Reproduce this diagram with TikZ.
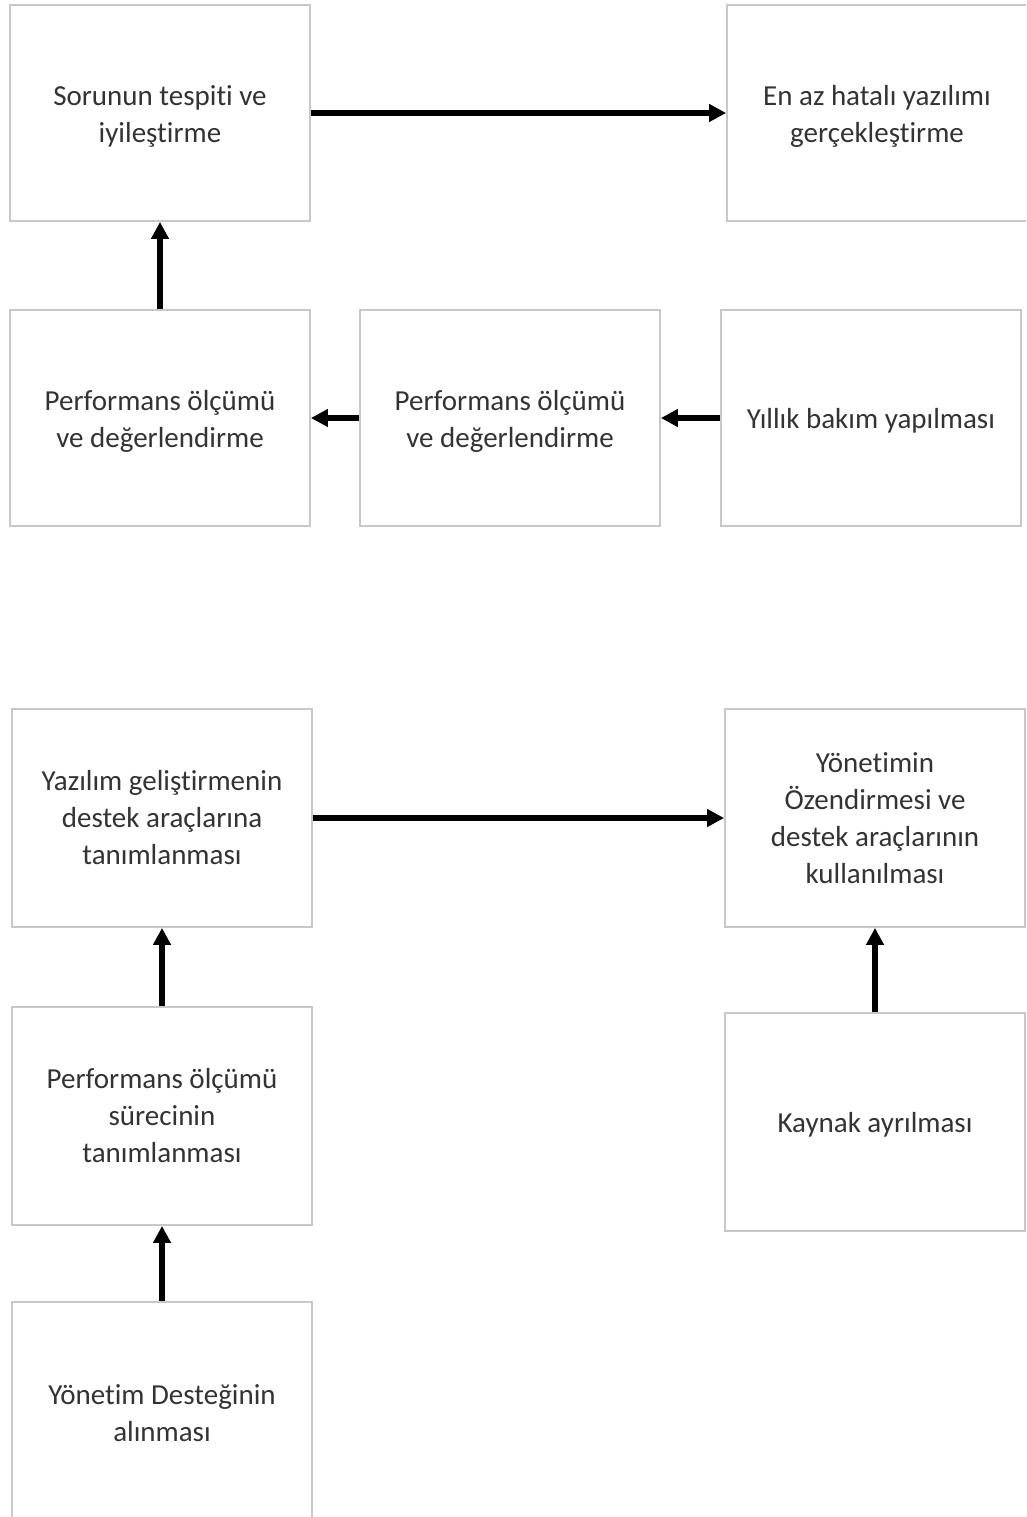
\documentclass[tikz,border=0pt]{standalone}
\usepackage{fontspec}
\setmainfont[Ligatures={NoCommon}]{Carlito}
\usetikzlibrary{arrows.meta}
\definecolor{boxline}{HTML}{C8C8C8}
\definecolor{boxtext}{HTML}{333333}
% extra room above the first line so short texts sit a little low in their box
\newcommand\firstline{\rule{0pt}{26pt}}
\begin{document}
\begin{tikzpicture}[x=1pt,y=-1pt,
  stepbox/.style={draw=boxline,line width=1.8pt,fill=white,
    minimum width=300pt,minimum height=216pt,inner sep=0pt,
    align=center,text=boxtext,
    font=\fontsize{29}{37}\selectfont},
  flow/.style={line width=5.5pt,-{Triangle[length=17pt,width=17pt]},black}]
\useasboundingbox (0,0) rectangle (1026,1517);
\clip (0,0) rectangle (1026,1517);
% upper chain
\node[stepbox] (tespit) at (160,113) {\firstline Sorunun tespiti ve\\iyileştirme};
\node[stepbox] (hata) at (877,113) {\firstline En az hatalı yazılımı\\gerçekleştirme};
\node[stepbox] (olcumA) at (160,418) {\firstline Performans ölçümü\\ve değerlendirme};
\node[stepbox] (olcumB) at (510,418) {\firstline Performans ölçümü\\ve değerlendirme};
\node[stepbox] (bakim) at (871,418) {\firstline Yıllık bakım yapılması};
% lower chain
\node[stepbox,minimum height=218pt] (araclar) at (162,818) {Yazılım geliştirmenin\\destek araçlarına\\tanımlanması};
\node[stepbox,minimum height=218pt] (ozendirme) at (875,818) {Yönetimin\\Özendirmesi ve\\destek araçlarının\\kullanılması};
\node[stepbox,minimum height=218pt] (surec) at (162,1116) {Performans ölçümü\\sürecinin\\tanımlanması};
\node[stepbox,minimum height=218pt] (kaynak) at (875,1122) {\firstline Kaynak ayrılması};
\node[stepbox] (destek) at (162,1410) {\firstline Yönetim Desteğinin\\alınması};
% connectors
\draw[flow] (tespit.east) -- (hata.west);
\draw[flow] (olcumA.north) -- (tespit.south);
\draw[flow] (olcumB.west) -- (olcumA.east);
\draw[flow] (bakim.west) -- (olcumB.east);
\draw[flow] (araclar.east) -- (ozendirme.west);
\draw[flow] (surec.north) -- (araclar.south);
\draw[flow] (kaynak.north) -- (ozendirme.south);
\draw[flow] (destek.north) -- (surec.south);
\end{tikzpicture}
\end{document}
